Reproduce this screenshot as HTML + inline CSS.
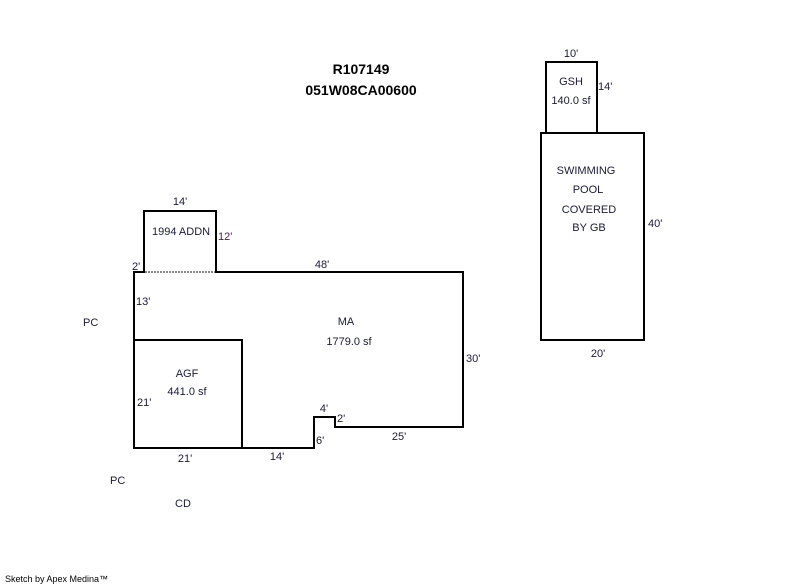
<!DOCTYPE html>
<html><head><meta charset="utf-8"><style>
html,body{margin:0;padding:0;background:#fff;width:800px;height:587px;overflow:hidden}
svg{display:block}
text{font-family:"Liberation Sans",Arial,sans-serif;font-size:11px;fill:#1a1a3a}
.b{font-weight:bold;font-size:14px;fill:#000}
</style></head><body>
<svg width="800" height="587" xmlns="http://www.w3.org/2000/svg">
<g fill="none" stroke="#000" stroke-width="2">
<polyline points="144,272 144,211 216,211 216,272"/>
<polygon points="134,272 463,272 463,427 335,427 335,417 314,417 314,448 134,448"/>
<rect x="134" y="340" width="108" height="108"/>
<rect x="546" y="62" width="51" height="71"/>
<rect x="541" y="133" width="103" height="207"/>
</g>
<line x1="145" y1="272" x2="215" y2="272" stroke="#fff" stroke-width="2"/>
<line x1="145" y1="272" x2="215" y2="272" stroke="#888" stroke-width="2" stroke-dasharray="2,1"/>
<text class="b" x="361" y="74" text-anchor="middle">R107149</text>
<text class="b" x="361" y="95" text-anchor="middle">051W08CA00600</text>
<text x="180" y="205" text-anchor="middle">14'</text>
<text x="152" y="235">1994 ADDN</text>
<text x="218" y="240" fill="#6a0a5a" style="fill:#6a0a5a">12'</text>
<text x="132" y="270">2'</text>
<text x="322" y="268" text-anchor="middle">48'</text>
<text x="136" y="305">13'</text>
<text x="346" y="325" text-anchor="middle">MA</text>
<text x="349" y="345" text-anchor="middle">1779.0 sf</text>
<text x="466" y="362">30'</text>
<text x="187" y="377" text-anchor="middle">AGF</text>
<text x="187" y="395" text-anchor="middle">441.0 sf</text>
<text x="137" y="406">21'</text>
<text x="324" y="412" text-anchor="middle">4'</text>
<text x="337" y="422">2'</text>
<text x="399" y="440" text-anchor="middle">25'</text>
<text x="316" y="444">6'</text>
<text x="185" y="462" text-anchor="middle">21'</text>
<text x="277" y="460" text-anchor="middle">14'</text>
<text x="83" y="326">PC</text>
<text x="110" y="484">PC</text>
<text x="175" y="507">CD</text>
<text x="571" y="57" text-anchor="middle">10'</text>
<text x="571" y="85" text-anchor="middle">GSH</text>
<text x="571" y="104" text-anchor="middle">140.0 sf</text>
<text x="598" y="90">14'</text>
<text x="586" y="174" text-anchor="middle">SWIMMING</text>
<text x="588" y="193" text-anchor="middle">POOL</text>
<text x="589" y="213" text-anchor="middle">COVERED</text>
<text x="589" y="231" text-anchor="middle">BY GB</text>
<text x="648" y="227">40'</text>
<text x="598" y="357" text-anchor="middle">20'</text>
<text x="5" y="582" style="font-size:9px;fill:#000">Sketch by Apex Medina™</text>
</svg>
</body></html>
